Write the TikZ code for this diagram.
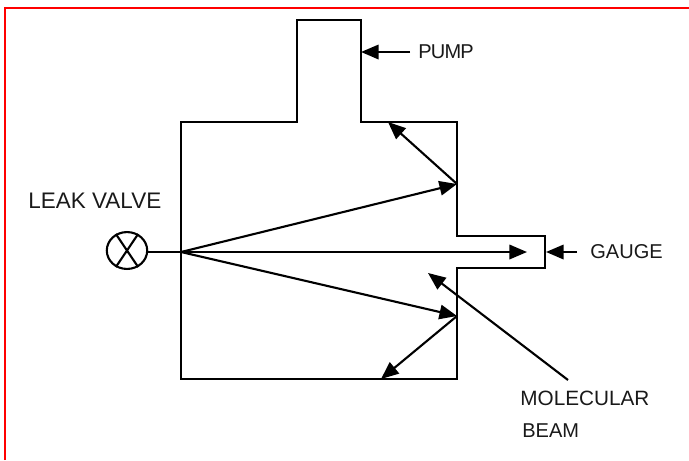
\documentclass[tikz,border=0pt]{standalone}
\usepackage{fontspec}
\setmainfont{Liberation Sans}
\usetikzlibrary{arrows.meta,positioning,shapes.geometric}
\tikzset{
  wall/.style   = {draw, line width=1.5pt, line join=miter},
  beam/.style   = {draw, line width=1.2pt, -{Triangle[length=10pt,width=8.2pt]}},
  label/.style  = {font=\fontsize{11.4}{13}\selectfont, inner sep=0pt, text=black!90},
  valve/.style  = {ellipse, draw, line width=1.2pt, minimum width=23pt, minimum height=21pt, inner sep=0pt}
}
\begin{document}
\begin{tikzpicture}[x=0.02cm,y=-0.02cm]
  \useasboundingbox (0,0) rectangle (689,460);
  \draw [red, line width=1.7pt] (5,460) -- (5,8) -- (689,8);
  % chamber
  \draw [wall] (181,122) -- (297,122) -- (297,20) -- (361,20) -- (361,122) -- (457,122)
    -- (457,236) -- (545,236) -- (545,268) -- (457,268) -- (457,379) -- (181,379) -- cycle;
  \node [valve] (vlv) at (127,250.5) {};
  \draw [line width=1.2pt] (vlv.56) -- (vlv.236) (vlv.124) -- (vlv.304);
  % points of the beam
  \coordinate (apex) at (181,252);
  \coordinate (up) at (457,184);
  \coordinate (down) at (457,316);
  \coordinate (tip) at (527,252);
  \coordinate (upwall) at (388,122);
  \coordinate (downwall) at (381,379);
  \draw [line width=1.5pt] (vlv.east |- apex) -- (apex);
  \draw [beam] (apex) -- (up);
  \draw [beam] (apex) -- (tip);
  \draw [beam] (apex) -- (down);
  \draw [beam] (up) -- (upwall);
  \draw [beam] (down) -- (downwall);
  % labels
  \node [label, anchor=west, font=\fontsize{12.8}{14}\selectfont] (leak) at (28,201) {LEAK VALVE};
  \node [label, anchor=west, font=\fontsize{11.4}{13}\selectfont\addfontfeatures{LetterSpace=-4}] (pump) at (418,51.5) {PUMP};
  \node [label, anchor=west] (gauge) at (590,252) {GAUGE};
  \node [label, anchor=west, font=\fontsize{11.8}{13}\selectfont] (mol) at (520,398.5) {MOLECULAR};
  \node [label, anchor=west] (bm) at (522,431) {BEAM};
  \coordinate (pumpstart) at (410,52);
  \coordinate (pumpend) at (361,52);
  \coordinate (gaugestart) at (577,252);
  \coordinate (gaugeend) at (546,252);
  \coordinate (molstart) at (568,380);
  \coordinate (molend) at (428,273);
  \draw [beam] (pumpstart) -- (pumpend);
  \draw [beam] (gaugestart) -- (gaugeend);
  \draw [beam] (molstart) -- (molend);
\end{tikzpicture}
\end{document}
